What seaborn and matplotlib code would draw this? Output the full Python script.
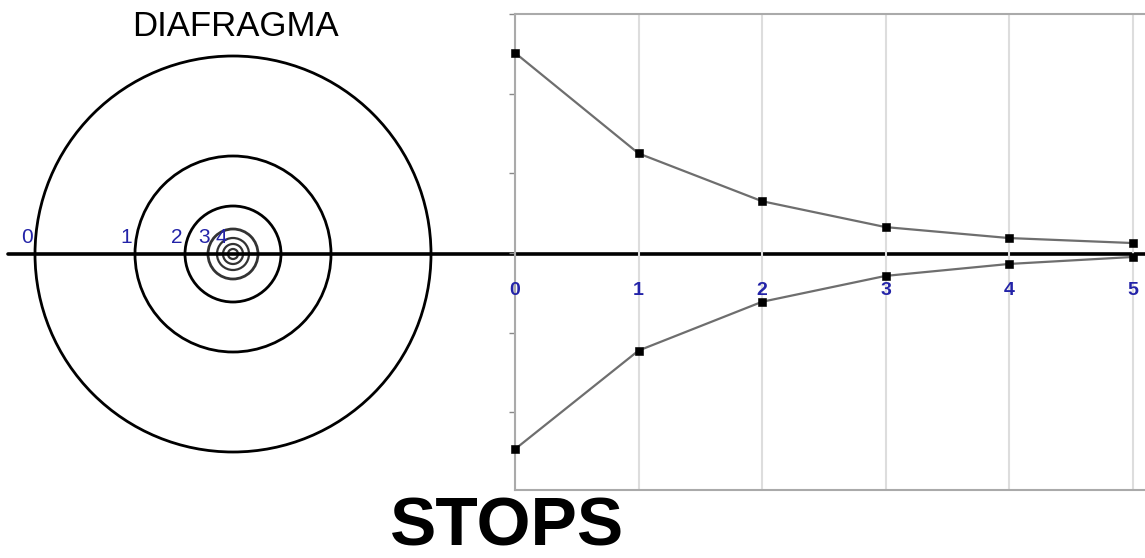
import numpy as np
import pandas as pd
import matplotlib
matplotlib.use("Agg")
import matplotlib.pyplot as plt
import seaborn as sns

# Data
stops = [0, 1, 2, 3, 4, 5]
upper = [201, 100, 52, 26, 15, 10]
lower = [-197, -98, -49, -23, -11, -4]
ring_labels = ["0", "1", "2", "3", "4"]
radii = [198, 98, 48, 25, 16, 10, 5]

sns.set_style("white")
plt.rcParams['font.family'] = ['Liberation Sans', 'DejaVu Sans']
plt.rcParams['text.color'] = 'black'

blue = "#2323a8"
fig = plt.figure(figsize=(11.45, 5.58), dpi=100)

# background axes in pixel units (diaphragm + texts)
bg = fig.add_axes([0, 0, 1, 1])
bg.set_xlim(0, 1145)
bg.set_ylim(558, 0)
bg.axis("off")

cx, cy = 233, 254
label_shift = [-2, -3, -2, 2, 10]
for i, r in enumerate(radii):
    lw = 2.0 if i < 4 else 1.6
    col = "black" if i < 3 else "#333333"
    bg.add_patch(plt.Circle((cx, cy), r, fill=False, lw=lw, color=col))
    if i < len(ring_labels):
        bg.text(cx - r + label_shift[i], cy - 7, ring_labels[i], color=blue,
                fontsize=15, ha="right", va="bottom")

bg.plot([8, 1145], [cy, cy], color="black", lw=2.6, zorder=5)
bg.text(235, 26, "DIAFRAGMA", fontsize=25, ha="center", va="center")
bg.text(507, 527, "STOPS", fontsize=50, fontweight="bold", ha="center", va="center")

# right chart
ax = fig.add_axes([515 / 1145, 68 / 558, 630 / 1145, 476 / 558])
ax.patch.set_alpha(0)
df = pd.DataFrame({"stop": stops * 2, "value": upper + lower,
                   "side": ["up"] * 6 + ["down"] * 6})
sns.lineplot(data=df, x="stop", y="value", units="side", estimator=None,
             color="#6e6e6e", lw=1.6, ax=ax)
sns.scatterplot(data=df, x="stop", y="value", marker="s", s=28, color="black",
                edgecolor="black", ax=ax, zorder=4, clip_on=False)

ax.set_xlim(0, 5.1)
ax.set_ylim(-238, 240)
ax.set_xticks(stops)
ax.set_xticklabels([])
ax.set_yticks([-160, -80, 0, 80, 160, 240])
ax.set_yticklabels([])
ax.tick_params(axis="y", direction="out", length=4, color="#888888", width=1, left=True)
ax.tick_params(axis="x", length=0)
ax.grid(axis="x", color="#dddddd", lw=1.5)
ax.set_xlabel("")
ax.set_ylabel("")
for s in ["left", "top", "bottom"]:
    ax.spines[s].set_color("#aaaaaa")
    ax.spines[s].set_linewidth(1.5)
ax.spines["right"].set_visible(False)

for s in stops:
    ax.annotate(str(s), (s, 0), xytext=(0, -38), textcoords="offset pixels",
                ha="center", va="center", color=blue, fontsize=14, fontweight="bold")

fig.savefig("out.png", dpi=100)
